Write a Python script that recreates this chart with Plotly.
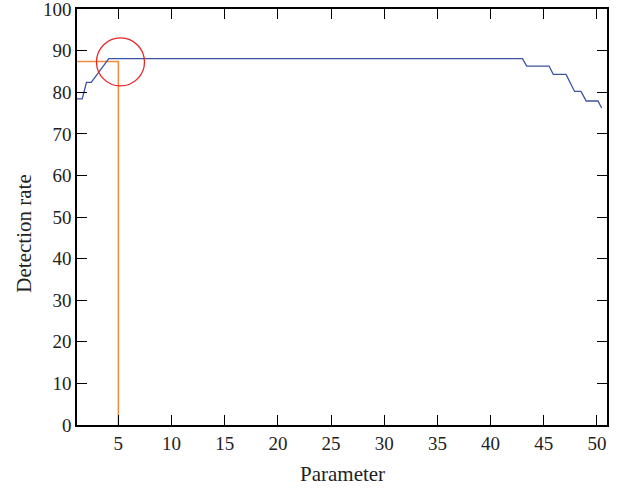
import plotly.graph_objects as go

# Data
param_x = [1.0, 1.6, 2.0, 2.45, 4.1, 43.0, 43.4, 45.5, 45.9, 47.1, 47.9, 48.5, 49.0, 50.1, 50.45]
detection_rate = [78.4, 78.4, 82.4, 82.4, 88.1, 88.1, 86.3, 86.3, 84.3, 84.3, 80.2, 80.2, 77.9, 77.9, 76.2]
marker_x = [1.0, 5.0, 5.0]
marker_y = [87.4, 87.4, 0.0]
circle_center = (5.2, 87.3)
x_ticks = [5, 10, 15, 20, 25, 30, 35, 40, 45, 50]
y_ticks = [0, 10, 20, 30, 40, 50, 60, 70, 80, 90, 100]

SERIF = "Liberation Serif, Times New Roman, serif"

fig = go.Figure()
fig.add_trace(go.Scatter(x=marker_x, y=marker_y, mode="lines",
                         line=dict(color="#F08A3C", width=1.5), showlegend=False))
fig.add_trace(go.Scatter(x=param_x, y=detection_rate, mode="lines",
                         line=dict(color="#3A53A4", width=1.3), showlegend=False))

fig.add_shape(type="circle", xref="x", yref="y", xsizemode="pixel", ysizemode="pixel",
              xanchor=circle_center[0], yanchor=circle_center[1],
              x0=-24, x1=24, y0=-24, y1=24, line=dict(color="#E8262A", width=1.3))

axis_common = dict(showgrid=False, zeroline=False, showline=True, linecolor="black",
                   linewidth=1.5, mirror="ticks", ticks="inside", ticklen=10,
                   tickwidth=1.3, tickcolor="black", ticklabeloverflow="allow",
                   automargin=False,
                   tickfont=dict(family=SERIF, size=19, color="#222"))
fig.update_xaxes(range=[1.11, 50.95], tickvals=x_ticks, **axis_common)
fig.update_yaxes(range=[0, 100.02], tickvals=y_ticks, **axis_common)

fig.add_annotation(text="Parameter", xref="paper", yref="paper", x=0.5, y=-0.085,
                   xanchor="center", yanchor="top", showarrow=False,
                   font=dict(family=SERIF, size=21, color="#222"))
fig.add_annotation(text="Detection rate", xref="paper", yref="paper", x=-0.1, y=0.46,
                   xanchor="center", yanchor="middle", showarrow=False, textangle=-90,
                   font=dict(family=SERIF, size=21, color="#222"))

fig.update_layout(width=629, height=490, margin=dict(l=77, r=22, t=9, b=65),
                  plot_bgcolor="white", paper_bgcolor="white")

fig.write_html("out.html")
